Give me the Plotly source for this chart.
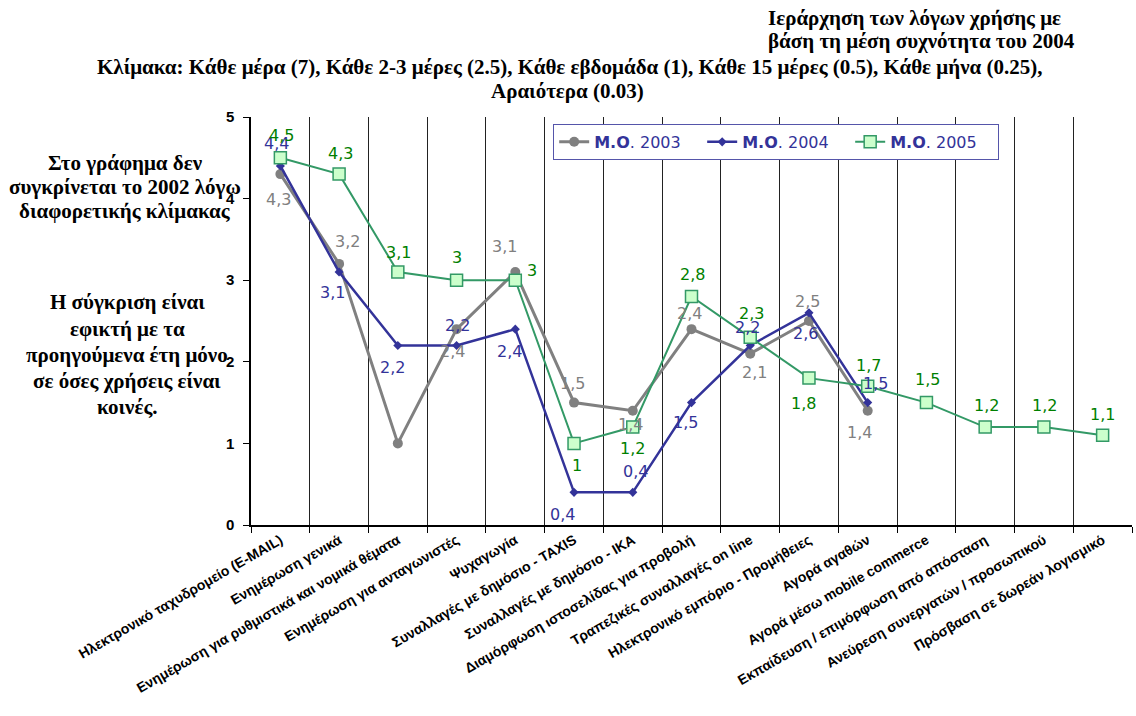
import plotly.graph_objects as go

# Usage reasons (x categories)
categories = [
    "Ηλεκτρονικό ταχυδρομείο (E-MAIL)",
    "Ενημέρωση γενικά",
    "Ενημέρωση για ρυθμιστικά και νομικά θέματα",
    "Ενημέρωση για ανταγωνιστές",
    "Ψυχαγωγία",
    "Συναλλαγές με δημόσιο - TAXIS",
    "Συναλλαγές με δημόσιο - ΙΚΑ",
    "Διαμόρφωση ιστοσελίδας για προβολή",
    "Τραπεζικές συναλλαγές on line",
    "Ηλεκτρονικό εμπόριο - Προμήθειες",
    "Αγορά αγαθών",
    "Αγορά μέσω mobile commerce",
    "Εκπαίδευση / επιμόρφωση από απόσταση",
    "Ανεύρεση συνεργατών / προσωπικού",
    "Πρόσβαση σε δωρεάν λογισμικό",
]

# Mean usage frequency per year
mo_2003 = [4.3, 3.2, 1.0, 2.4, 3.1, 1.5, 1.4, 2.4, 2.1, 2.5, 1.4, None, None, None, None]
mo_2004 = [4.4, 3.1, 2.2, 2.2, 2.4, 0.4, 0.4, 1.5, 2.2, 2.6, 1.5, None, None, None, None]
mo_2005 = [4.5, 4.3, 3.1, 3.0, 3.0, 1.0, 1.2, 2.8, 2.3, 1.8, 1.7, 1.5, 1.2, 1.2, 1.1]

y_ticks = [0, 1, 2, 3, 4, 5]

# Pixel offsets (right, down) of each value label from its point; None = no label
off_2003 = [(-2, 25), (8, -22), None, (-4, 22), (-11, -26), (-2, -19), (-2, 14),
            (-2, -16), (4, 19), (-1, -20), (-8, 22)]
off_2004 = [(-4, -22), (-7, 20), (-5, 22), (1, -20), (-6, 22), (-12, 22), (3, -21),
            (-6, 20), (-3, -18), (-3, 21), (8, -19)]
off_2005 = [(1, -22), (1, -21), (1, -20), (0, -23), (17, -10), (3, 22), (0, 21),
            (1, -22), (1, -24), (-5, 25), (1, -21), (1, -23), (1, -22), (1, -22), (0, -21)]

GREY = "#808080"
NAVY = "#333399"
GREEN_LINE = "#339966"
GREEN_TEXT = "#008000"

xs = list(range(len(categories)))

fig = go.Figure()
fig.add_trace(go.Scatter(
    x=xs, y=mo_2003, name="<b>Μ.Ο</b>. 2003", mode="lines+markers",
    line=dict(color=GREY, width=3),
    marker=dict(symbol="circle", size=10, color=GREY),
))
fig.add_trace(go.Scatter(
    x=xs, y=mo_2004, name="<b>Μ.Ο</b>. 2004", mode="lines+markers",
    line=dict(color=NAVY, width=2.5),
    marker=dict(symbol="diamond", size=7, color=NAVY),
))
fig.add_trace(go.Scatter(
    x=xs, y=mo_2005, name="<b>Μ.Ο</b>. 2005", mode="lines+markers",
    line=dict(color=GREEN_LINE, width=2),
    marker=dict(symbol="square", size=12, color="#ccffcc",
                line=dict(color=GREEN_LINE, width=1.5)),
))


def fmt(v):
    return ("%g" % v).replace(".", ",")


annotations = []
for values, offsets, color in ((mo_2003, off_2003, GREY),
                               (mo_2004, off_2004, NAVY),
                               (mo_2005, off_2005, GREEN_TEXT)):
    for i, (v, off) in enumerate(zip(values, offsets)):
        if v is None or off is None:
            continue
        annotations.append(dict(
            x=i, y=v, xref="x", yref="y", text=fmt(v), showarrow=False,
            xshift=off[0], yshift=-off[1],
            font=dict(family="DejaVu Sans, Verdana, sans-serif", size=16, color=color),
        ))

serif = "Liberation Serif, Times New Roman, serif"
PLOT_LEFT, PLOT_WIDTH, PLOT_BOTTOM, PLOT_HEIGHT = 251, 881, 525, 408


def text_line(text, px, py, anchor, size):
    """Bold serif line positioned in page pixels (converted to paper units)."""
    return dict(
        xref="paper", yref="paper",
        x=(px - PLOT_LEFT) / PLOT_WIDTH, y=(PLOT_BOTTOM - py) / PLOT_HEIGHT,
        xanchor=anchor, yanchor="middle", showarrow=False,
        text="<b>%s</b>" % text,
        font=dict(family=serif, size=size, color="black"),
    )


title_lines = [
    ("Ιεράρχηση των λόγων χρήσης με", 766, 18, "left"),
    ("βάση τη μέση συχνότητα του 2004", 766, 41, "left"),
    ("Κλίμακα: Κάθε μέρα (7), Κάθε 2-3 μέρες (2.5), Κάθε εβδομάδα (1), "
     "Κάθε 15 μέρες (0.5), Κάθε μήνα (0.25),", 570, 67, "center"),
    ("Αραιότερα (0.03)", 567, 91, "center"),
]
note_lines = [
    ("Στο γράφημα δεν", 125, 163),
    ("συγκρίνεται το 2002 λόγω", 125, 187),
    ("διαφορετικής κλίμακας", 125, 211),
    ("Η σύγκριση είναι", 127, 302),
    ("εφικτή με τα", 127, 329),
    ("προηγούμενα έτη μόνο", 127, 355),
    ("σε όσες χρήσεις είναι", 127, 381),
    ("κοινές.", 127, 407),
]
for t, px, py, anc in title_lines:
    annotations.append(text_line(t, px, py, anc, 21))
for t, px, py in note_lines:
    annotations.append(text_line(t, px, py, "center", 21))

fig.update_layout(
    width=1136, height=716,
    margin=dict(l=251, r=4, t=117, b=191),
    paper_bgcolor="white", plot_bgcolor="white",
    showlegend=True,
    legend=dict(
        orientation="h", x=0.343, y=0.983, xanchor="left", yanchor="top",
        bgcolor="white", bordercolor="#5555aa", borderwidth=1,
        font=dict(family="DejaVu Sans, Verdana, sans-serif", size=16, color=NAVY),
        itemwidth=30, tracegroupgap=0,
        entrywidth=103, entrywidthmode="pixels",
    ),
    annotations=annotations,
    xaxis=dict(
        range=[-0.5, len(categories) - 0.5],
        tickmode="array", tickvals=xs, ticktext=categories, tickangle=-30,
        ticks="", showgrid=False, zeroline=False,
        showline=True, linecolor="black", linewidth=1.5,
        tickfont=dict(family="Liberation Sans, Arial, sans-serif", size=14, color="black",
                      weight="bold"),
        minor=dict(tickmode="array",
                   tickvals=[i - 0.5 for i in range(len(categories) + 1)],
                   ticks="outside", ticklen=6, tickcolor="black", tickwidth=1,
                   showgrid=True, gridcolor="#222222", gridwidth=1),
    ),
    yaxis=dict(
        range=[0, 5], tickmode="array", tickvals=y_ticks,
        ticks="outside", ticklen=6, tickcolor="black",
        showgrid=False, zeroline=False,
        showline=True, linecolor="black", linewidth=1.5,
        ticklabelstandoff=6,
        tickfont=dict(family="Liberation Sans, Arial, sans-serif", size=15, color="black",
                      weight="bold"),
    ),
)

fig.write_html("out.html")
